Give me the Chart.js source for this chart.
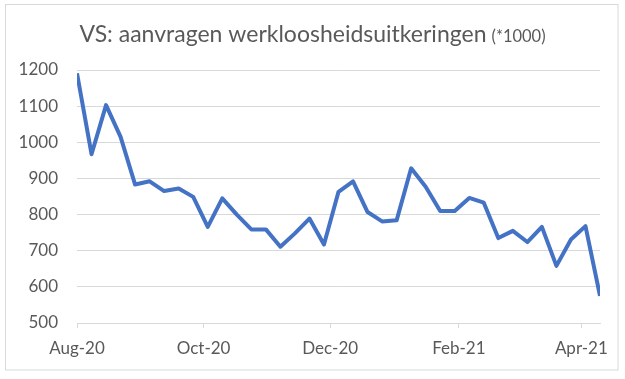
<!DOCTYPE html>
<html>
<head>
<meta charset="utf-8">
<script src="https://cdn.jsdelivr.net/npm/chart.js@4"></script>
<style>
  html, body { margin: 0; padding: 0; background: #ffffff; }
  #wrap { position: relative; width: 625px; height: 379px; }
</style>
</head>
<body>
<div id="wrap"><canvas id="chart" width="625" height="379"></canvas></div>
<script>
// Weekly initial claims (week ending), in thousands
const weeks = [
  "2020-08-01", "2020-08-08", "2020-08-15", "2020-08-22", "2020-08-29",
  "2020-09-05", "2020-09-12", "2020-09-19", "2020-09-26",
  "2020-10-03", "2020-10-10", "2020-10-17", "2020-10-24", "2020-10-31",
  "2020-11-07", "2020-11-14", "2020-11-21", "2020-11-28",
  "2020-12-05", "2020-12-12", "2020-12-19", "2020-12-26",
  "2021-01-02", "2021-01-09", "2021-01-16", "2021-01-23", "2021-01-30",
  "2021-02-06", "2021-02-13", "2021-02-20", "2021-02-27",
  "2021-03-06", "2021-03-13", "2021-03-20", "2021-03-27",
  "2021-04-03", "2021-04-10"
]
const claims = [
  1191, 967, 1103, 1015, 883,
  892, 865, 872, 849,
  766, 845, 800, 759, 759,
  711, 748, 789, 717,
  863, 892, 807, 781,
  784, 928, 877, 810, 810,
  846, 833, 735, 755,
  724, 766, 658, 731,
  768, 575
]
const tickDates = ["2020-08-01", "2020-10-01", "2020-12-01", "2021-02-01", "2021-04-01"]
const tickLabels = ["Aug-20", "Oct-20", "Dec-20", "Feb-21", "Apr-21"]
const yTicks = [500, 600, 700, 800, 900, 1000, 1100, 1200]

const titleMain = "VS: aanvragen werkloosheidsuitkeringen"
const titleUnit = "(*1000)"

const TEXT = "#595959"
const GRID = "#d9d9d9"
const FONT = "Lato, 'Open Sans', sans-serif"

const DAY = 86400000
const start = Date.parse(weeks[0])
const toDay = (d) => (Date.parse(d) - start) / DAY

const points = weeks.map((w, i) => ({ x: toDay(w), y: claims[i] }))
const tickDays = tickDates.map(toDay)

// Rand om de hele grafiek en de titel in twee lettergroottes
const frame = {
  id: "frame",
  beforeDraw(chart) {
    const { ctx } = chart
    ctx.save()
    ctx.strokeStyle = GRID
    ctx.lineWidth = 1
    ctx.strokeRect(5.5, 4.5, 612.5, 365.5)
    ctx.restore()
  },
  afterDraw(chart) {
    const { ctx } = chart
    ctx.save()
    ctx.fillStyle = TEXT
    ctx.textBaseline = "alphabetic"
    ctx.font = `23px ${FONT}`
    const w1 = ctx.measureText(titleMain).width
    ctx.font = `16.5px ${FONT}`
    const w2 = ctx.measureText(titleUnit).width
    const gap = 5
    const x = (625 - (w1 + gap + w2)) / 2
    ctx.font = `23px ${FONT}`
    ctx.fillText(titleMain, x, 42)
    ctx.font = `16.5px ${FONT}`
    ctx.fillText(titleUnit, x + w1 + gap, 42)
    ctx.restore()
  }
}

new Chart(document.getElementById("chart"), {
  type: "line",
  data: {
    datasets: [{
      data: points,
      borderColor: "#4472C4",
      borderWidth: 4,
      borderJoinStyle: "round",
      pointRadius: 0,
      tension: 0,
      fill: false
    }]
  },
  options: {
    responsive: false,
    animation: false,
    layout: { padding: { top: 70, right: 25, left: 0, bottom: 0 } },
    plugins: {
      legend: { display: false },
      title: { display: false },
      tooltip: { enabled: false }
    },
    scales: {
      x: {
        type: "linear",
        min: 0,
        max: toDay(weeks[weeks.length - 1]),
        afterBuildTicks: (scale) => { scale.ticks = tickDays.map((v) => ({ value: v })) },
        afterFit: (scale) => { scale.height = 56 },
        grid: { drawOnChartArea: false, drawTicks: true, tickLength: 5, color: GRID },
        border: { display: true, color: GRID },
        ticks: {
          color: TEXT,
          font: { family: FONT, size: 17 },
          padding: 10,
          maxRotation: 0,
          autoSkip: false,
          callback: (value) => tickLabels[tickDays.indexOf(value)]
        }
      },
      y: {
        min: 500,
        max: 1200,
        afterBuildTicks: (scale) => { scale.ticks = yTicks.map((v) => ({ value: v })) },
        afterFit: (scale) => { scale.width = 77 },
        grid: { color: GRID, drawTicks: false },
        border: { display: false },
        ticks: {
          color: TEXT,
          font: { family: FONT, size: 17 },
          padding: 19,
          callback: (value) => String(value)
        }
      }
    }
  },
  plugins: [frame]
})
</script>
</body>
</html>
